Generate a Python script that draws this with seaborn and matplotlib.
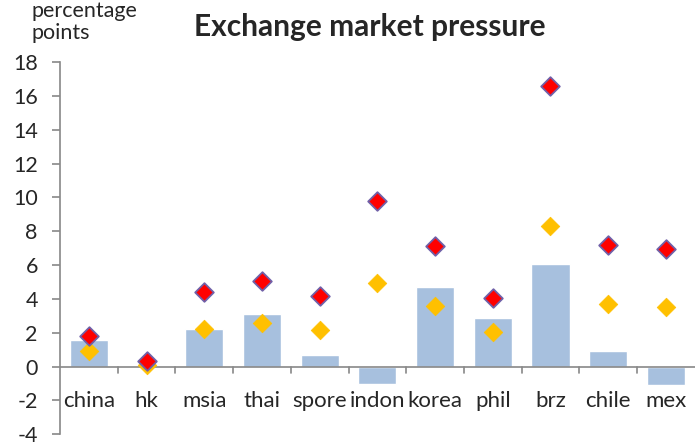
import matplotlib.pyplot as plt
import seaborn as sns
import pandas as pd

countries = ['china', 'hk', 'msia', 'thai', 'spore', 'indon', 'korea', 'phil', 'brz', 'chile', 'mex']
bar_vals = [1.55, 0.0, 2.25, 3.1, 0.7, -1.0, 4.7, 2.9, 6.05, 0.95, -1.1]
red_vals = [1.8, 0.35, 4.4, 5.05, 4.15, 9.8, 7.15, 4.05, 16.6, 7.2, 6.95]
gold_vals = [0.9, 0.1, 2.25, 2.55, 2.15, 4.95, 3.6, 2.05, 8.3, 3.7, 3.5]
yticks = list(range(-4, 19, 2))

df = pd.DataFrame({'country': countries, 'bar': bar_vals,
                   'red': red_vals, 'gold': gold_vals})

sns.set_style('white')
plt.rcParams['font.family'] = ['Lato', 'DejaVu Sans']

fig = plt.figure(figsize=(6.96, 4.45), dpi=100)
ax = fig.add_axes([0.0862, 0.024, 0.912, 0.8367])

sns.barplot(data=df, x='country', y='bar', color='#A7C0DE', saturation=1,
            width=0.66, ax=ax, zorder=1)
sns.scatterplot(data=df, x='country', y='gold', marker='D', s=90,
                color='#FFC000', edgecolor='#FFC000', linewidth=0.5, ax=ax, zorder=3)
sns.scatterplot(data=df, x='country', y='red', marker='D', s=90,
                color='#FF0000', edgecolor='#7060A8', linewidth=1.3, ax=ax, zorder=4)

ax.set_xlim(-0.5, len(countries) - 0.5)
ax.set_ylim(-4, 18)
ax.set_yticks(yticks)
ax.set_yticklabels([str(t) for t in yticks], fontsize=15.5)
ax.set_xlabel('')
ax.set_ylabel('')

# x axis drawn at zero, labels below it
for s in ['top', 'right', 'bottom']:
    ax.spines[s].set_visible(False)
ax.spines['left'].set_color('#888888')
ax.spines['left'].set_linewidth(1.2)
ax.axhline(0, color='#888888', linewidth=1.2, zorder=2)
for i in range(1, len(countries)):
    ax.plot([i - 0.5, i - 0.5], [0, -0.35], color='#888888', linewidth=1.2, zorder=2)
ax.tick_params(axis='x', length=0, labelsize=16, pad=-31)
ax.tick_params(axis='y', length=6, width=1.2, color='#888888', left=True, pad=10)

ax.set_title('Exchange market pressure', fontsize=21.5, fontweight='bold', pad=19, x=0.488)
fig.text(0.045, 0.997, 'percentage\npoints', fontsize=15.5, va='top', ha='left',
         linespacing=1.1)

fig.savefig('out.png', dpi=100)
